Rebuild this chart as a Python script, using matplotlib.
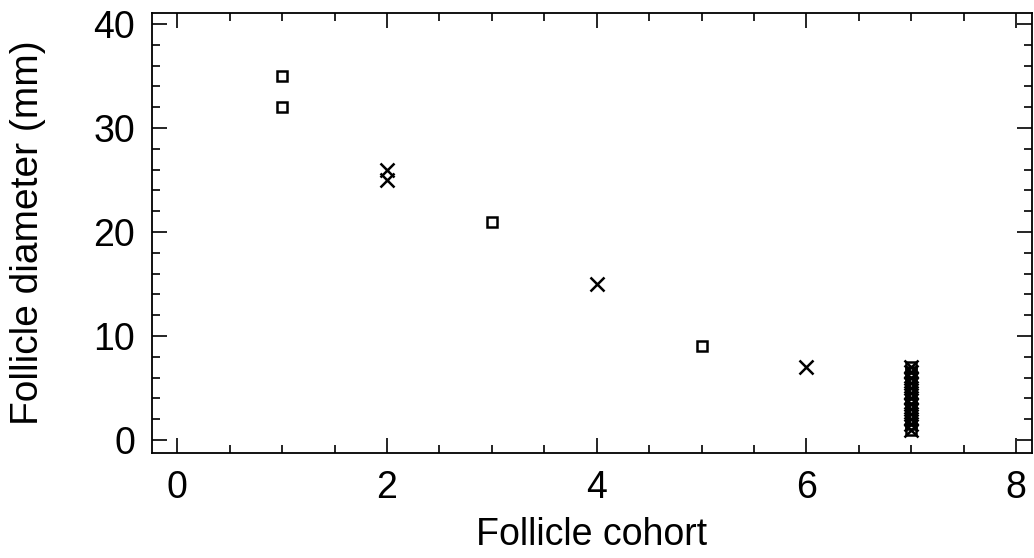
import matplotlib
matplotlib.use("Agg")
import matplotlib.pyplot as plt
from matplotlib.ticker import MultipleLocator

plt.rcParams['font.family'] = ['Liberation Sans', 'DejaVu Sans']

# cohort / diameter values
sq_x = [1, 1, 3, 5, 7, 7, 7, 7, 7, 7, 7, 7, 7, 7, 7, 7, 7]
sq_y = [35, 32, 21, 9, 1, 1.5, 2, 2.5, 3, 3.5, 4, 4.5, 5, 5.5, 6, 6.5, 7]
cr_x = [2, 2, 4, 6, 7, 7, 7, 7, 7, 7, 7, 7, 7, 7, 7, 7, 7]
cr_y = [26, 25, 15, 7, 1, 1.5, 2, 2.5, 3, 3.5, 4, 4.5, 5, 5.5, 6, 6.5, 7]

fig = plt.figure(figsize=(10.34, 5.58), dpi=100)
ax = fig.add_axes([152/1034, 1 - 453/558, (1032-152)/1034, (453-13)/558])

ax.plot(sq_x, sq_y, 's', ms=7.5, mfc='none', mec='black', mew=1.8, ls='none')
ax.plot(cr_x, cr_y, 'x', ms=10, color='black', mew=1.8, ls='none')

ax.set_xlim(-0.24, 8.15)
ax.set_ylim(-1.25, 41.06)
ax.xaxis.set_major_locator(MultipleLocator(2))
ax.xaxis.set_minor_locator(MultipleLocator(0.5))
ax.yaxis.set_major_locator(MultipleLocator(10))
ax.yaxis.set_minor_locator(MultipleLocator(2))
ax.tick_params(which='both', direction='in', top=True, right=True, width=1.2, labelsize=27)
ax.tick_params(which='major', length=11, pad=12)
ax.tick_params(which='minor', length=6)
for s in ax.spines.values():
    s.set_linewidth(1.3)

ax.set_xlabel("Follicle cohort", fontsize=27, labelpad=8)
ax.set_ylabel("Follicle diameter (mm)", fontsize=28, labelpad=34)

fig.savefig("out.png", dpi=100)
